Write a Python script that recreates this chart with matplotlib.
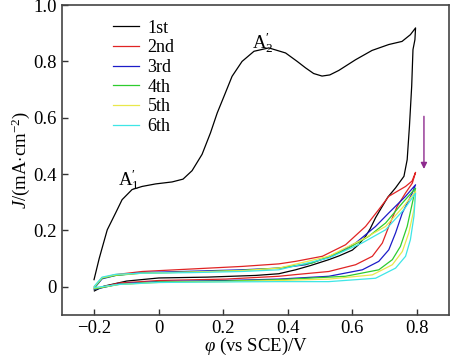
import matplotlib
matplotlib.use('Agg')
import matplotlib.pyplot as plt

plt.rcParams['font.family'] = ['Liberation Serif', 'DejaVu Serif']
plt.rcParams['mathtext.fontset'] = 'custom'
plt.rcParams['mathtext.rm'] = 'Liberation Serif'
plt.rcParams['mathtext.it'] = 'Liberation Serif:italic'

# cycle data, potential (V vs SCE) and current density (mA/cm2)
labels = ['1st', '2nd', '3rd', '4th', '5th', '6th']
colors = ['black', '#e02424', '#1c1cc8', '#2ecc2e', '#e8e84c', '#3ee6e6']

x1 = [-0.201, -0.185, -0.176, -0.160, -0.134, -0.114, -0.083, -0.052, -0.010, 0.041, 0.075,
      0.103, 0.134, 0.160, 0.181, 0.202, 0.227, 0.258, 0.295, 0.341, 0.393, 0.429, 0.455,
      0.480, 0.506, 0.530, 0.558, 0.610, 0.661, 0.713, 0.754, 0.780, 0.796,
      0.794, 0.788, 0.784, 0.777, 0.770, 0.760, 0.734, 0.710, 0.690, 0.672, 0.655, 0.641,
      0.620, 0.600, 0.560, 0.527, 0.470, 0.424, 0.372, 0.30, 0.15, 0.0, -0.10, -0.17, -0.20]
j1 = [0.025, 0.100, 0.137, 0.202, 0.262, 0.309, 0.345, 0.356, 0.365, 0.372, 0.382,
      0.412, 0.470, 0.546, 0.617, 0.676, 0.747, 0.800, 0.836, 0.848, 0.830, 0.800, 0.777,
      0.757, 0.748, 0.752, 0.768, 0.806, 0.839, 0.860, 0.871, 0.895, 0.919,
      0.877, 0.842, 0.712, 0.569, 0.451, 0.392, 0.351, 0.318, 0.280, 0.245, 0.205, 0.179,
      0.150, 0.130, 0.110, 0.096, 0.075, 0.060, 0.046, 0.040, 0.034, 0.031, 0.020, 0.002, -0.015]

x2 = [-0.200, -0.176, -0.134, -0.052, 0.103, 0.258, 0.372, 0.424, 0.507, 0.579, 0.641, 0.682,
      0.713, 0.765, 0.785, 0.796,
      0.786, 0.765, 0.739, 0.713, 0.693, 0.662, 0.610, 0.527, 0.424, 0.372, 0.207, 0.0, -0.124, -0.200]
j2 = [0.000, 0.031, 0.043, 0.054, 0.063, 0.072, 0.081, 0.090, 0.108, 0.149, 0.214, 0.274,
      0.321, 0.356, 0.375, 0.406,
      0.368, 0.333, 0.285, 0.214, 0.155, 0.108, 0.078, 0.054, 0.043, 0.037, 0.027, 0.022, 0.013, -0.008]

x3 = [-0.200, -0.176, -0.134, -0.052, 0.103, 0.258, 0.372, 0.455, 0.537, 0.610, 0.672, 0.713,
      0.765, 0.796,
      0.786, 0.755, 0.734, 0.713, 0.682, 0.631, 0.527, 0.372, 0.207, 0.0, -0.124, -0.200]
j3 = [-0.005, 0.028, 0.040, 0.050, 0.055, 0.060, 0.066, 0.078, 0.108, 0.155, 0.214, 0.262,
      0.321, 0.362,
      0.333, 0.262, 0.191, 0.131, 0.090, 0.060, 0.037, 0.027, 0.022, 0.018, 0.010, -0.010]

x4 = [-0.200, -0.176, -0.134, -0.052, 0.103, 0.258, 0.372, 0.475, 0.579, 0.651, 0.703, 0.755, 0.796,
      0.786, 0.770, 0.749, 0.724, 0.682, 0.579, 0.372, 0.207, 0.0, -0.124, -0.200]
j4 = [-0.003, 0.030, 0.040, 0.048, 0.052, 0.058, 0.066, 0.084, 0.131, 0.179, 0.226, 0.297, 0.350,
      0.297, 0.214, 0.143, 0.096, 0.060, 0.037, 0.025, 0.020, 0.017, 0.008, -0.008]

x5 = [-0.200, -0.176, -0.134, -0.052, 0.103, 0.258, 0.372, 0.527, 0.630, 0.703, 0.755, 0.796,
      0.791, 0.775, 0.755, 0.724, 0.662, 0.527, 0.372, 0.207, 0.0, -0.124, -0.200]
j5 = [0.000, 0.032, 0.042, 0.048, 0.052, 0.057, 0.066, 0.108, 0.167, 0.214, 0.280, 0.338,
      0.274, 0.191, 0.125, 0.078, 0.042, 0.027, 0.022, 0.018, 0.015, 0.008, -0.005]

x6 = [-0.200, -0.176, -0.134, -0.052, 0.103, 0.258, 0.372, 0.527, 0.630, 0.703, 0.760, 0.796,
      0.791, 0.780, 0.765, 0.734, 0.672, 0.527, 0.372, 0.207, 0.0, -0.124, -0.200]
j6 = [0.002, 0.034, 0.044, 0.048, 0.050, 0.054, 0.060, 0.102, 0.155, 0.202, 0.274, 0.332,
      0.250, 0.167, 0.108, 0.066, 0.030, 0.018, 0.018, 0.017, 0.015, 0.008, -0.003]

xs = [x1, x2, x3, x4, x5, x6]
js = [j1, j2, j3, j4, j5, j6]

fig = plt.figure(figsize=(4.5, 3.64), dpi=100)
ax = fig.add_axes([0.138, 0.135, 0.860, 0.851])

for x, j, c, lab in zip(xs, js, colors, labels):
    ax.plot(x, j, color=c, lw=0.9, label=lab)

ax.set_xlim(-0.3, 0.9)
ax.set_ylim(-0.1, 1.0)
ax.set_xticks([-0.2, 0, 0.2, 0.4, 0.6, 0.8])
ax.set_xticklabels(['\u22120.2', '0', '0.2', '0.4', '0.6', '0.8'])
ax.set_yticks([0, 0.2, 0.4, 0.6, 0.8, 1.0])
ax.set_yticklabels(['0', '0.2', '0.4', '0.6', '0.8', '1.0'])
ax.tick_params(direction='in', length=4, width=1, labelsize=13.5, colors='#333333',
               labelcolor='black', top=False, right=False)
ax.tick_params(axis='x', pad=4)
ax.tick_params(axis='y', pad=4)
for s in ax.spines.values():
    s.set_color('#444444')
    s.set_linewidth(1.2)

ax.set_xlabel(r'$\varphi$ (vs SCE)/V', fontsize=13.5, labelpad=-1)
ax.set_ylabel(r'$J$/(mA$\cdot$cm$^{-2}$)', fontsize=13.5, labelpad=1)

ax.text(-0.093, 0.38, "$\\mathrm{A}_1^{\\mathrm{\u2032}}$", fontsize=13.5, ha='center', va='center')
ax.text(0.322, 0.865, "$\\mathrm{A}_2^{\\mathrm{\u2032}}$", fontsize=13.5, ha='center', va='center')

ax.annotate('', xy=(0.822, 0.418), xytext=(0.822, 0.605),
            arrowprops=dict(arrowstyle='-|>', color='#8e2a8e', lw=1.0,
                            mutation_scale=9, shrinkA=0, shrinkB=0))

ax.legend(loc='upper left', bbox_to_anchor=(0.132, 0.953), frameon=False,
          fontsize=13, handlelength=1.45, handletextpad=0.45, labelspacing=0.15,
          borderpad=0, borderaxespad=0)

fig.savefig('out.png', dpi=100)
